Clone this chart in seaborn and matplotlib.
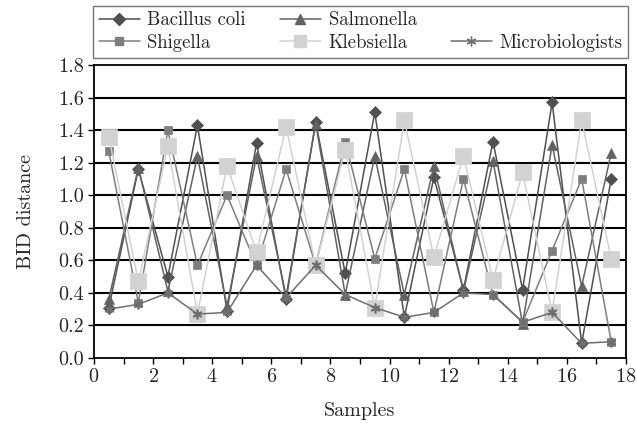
import matplotlib
matplotlib.use('Agg')
import matplotlib.pyplot as plt
from matplotlib.lines import Line2D
from matplotlib.ticker import MultipleLocator, FormatStrFormatter
import seaborn as sns

# Data
samples = [0.5, 1.5, 2.5, 3.5, 4.5, 5.5, 6.5, 7.5, 8.5, 9.5, 10.5, 11.5, 12.5, 13.5, 14.5, 15.5, 16.5, 17.5]
bacillus_coli = [0.31, 1.16, 0.50, 1.43, 0.29, 1.32, 0.36, 1.45, 0.52, 1.51, 0.25, 1.11, 0.42, 1.33, 0.42, 1.57, 0.09, 1.10]
salmonella = [0.36, 1.17, 0.41, 1.24, 0.32, 1.24, 0.38, 1.44, 0.39, 1.24, 0.39, 1.18, 0.41, 1.21, 0.21, 1.31, 0.44, 1.26]
shigella = [1.27, 0.34, 1.40, 0.57, 1.00, 0.57, 1.16, 0.57, 1.33, 0.61, 1.16, 0.28, 1.10, 0.39, 0.22, 0.66, 1.10, 0.10]
klebsiella = [1.36, 0.47, 1.30, 0.27, 1.18, 0.65, 1.42, 0.57, 1.28, 0.31, 1.46, 0.62, 1.24, 0.48, 1.14, 0.28, 1.46, 0.61]
microbiologists = [0.30, 0.33, 0.40, 0.27, 0.28, 0.57, 0.37, 0.57, 0.39, 0.31, 0.25, 0.28, 0.40, 0.39, 0.22, 0.28, 0.09, 0.10]

sns.set_style('white')
plt.rcParams['font.family'] = ['cmr10', 'DejaVu Serif']
plt.rcParams['axes.formatter.use_mathtext'] = True

fig = plt.figure(figsize=(6.37, 4.23), dpi=100)
ax = fig.add_axes([94 / 637, 1 - 358 / 423, (626 - 94) / 637, (358 - 65) / 423])

# gridlines first so the lines sit above them
for yv in [0.2, 0.4, 0.6, 0.8, 1.0, 1.2, 1.4, 1.6]:
    ax.axhline(yv, color='black', lw=1.5, zorder=0)

series = [
    ('Bacillus coli', bacillus_coli, '#505050', 'D', 6.5),
    ('Salmonella', salmonella, '#626262', '^', 7.5),
    ('Shigella', shigella, '#7e7e7e', 's', 6),
    ('Klebsiella', klebsiella, '#d2d2d2', 's', 11),
    ('Microbiologists', microbiologists, '#6e6e6e', (6, 2, 0), 7),
]

handles = {}
for name, vals, col, mk, ms in series:
    sns.lineplot(x=samples, y=vals, ax=ax, color=col, lw=1.1, marker=mk,
                 markersize=ms, markeredgecolor=col, markeredgewidth=1.2 if mk == (6, 2, 0) else 0.5)
    handles[name] = Line2D([], [], color=col, lw=1.1, marker=mk,
                           markersize=min(ms, 9), markeredgecolor=col)

ax.set_xlim(0, 18)
ax.set_ylim(0, 1.8)
ax.xaxis.set_major_locator(MultipleLocator(2))
ax.xaxis.set_minor_locator(MultipleLocator(1))
ax.yaxis.set_major_locator(MultipleLocator(0.2))
ax.yaxis.set_major_formatter(FormatStrFormatter('%.1f'))
ax.tick_params(axis='both', which='both', direction='out', length=4, width=1,
               color='black', labelsize=14.5, left=True, bottom=True, pad=3)
for sp in ax.spines.values():
    sp.set_color('black')
    sp.set_linewidth(1.3)

ax.set_xlabel('Samples', fontsize=14.5, labelpad=12)
ax.set_ylabel('BID distance', fontsize=14.5, labelpad=17)

blank = Line2D([], [], alpha=0)
leg_handles = [handles['Bacillus coli'], handles['Shigella'],
               handles['Salmonella'], handles['Klebsiella'],
               blank, handles['Microbiologists']]
leg_labels = ['Bacillus coli', 'Shigella', 'Salmonella', 'Klebsiella', '', 'Microbiologists']
leg = fig.legend(leg_handles, leg_labels, ncol=3, loc='upper left',
                 bbox_to_anchor=(93 / 637, 1 - 10 / 423, (628 - 93) / 637, 0.01),
                 mode='expand', fontsize=13.5, frameon=True, fancybox=False,
                 handlelength=2.2, handletextpad=0.4, borderpad=0.3,
                 labelspacing=0.25, borderaxespad=0, columnspacing=1.0)
leg.get_frame().set_edgecolor('#555555')
leg.get_frame().set_linewidth(1.0)

fig.savefig('out.png', dpi=100)
